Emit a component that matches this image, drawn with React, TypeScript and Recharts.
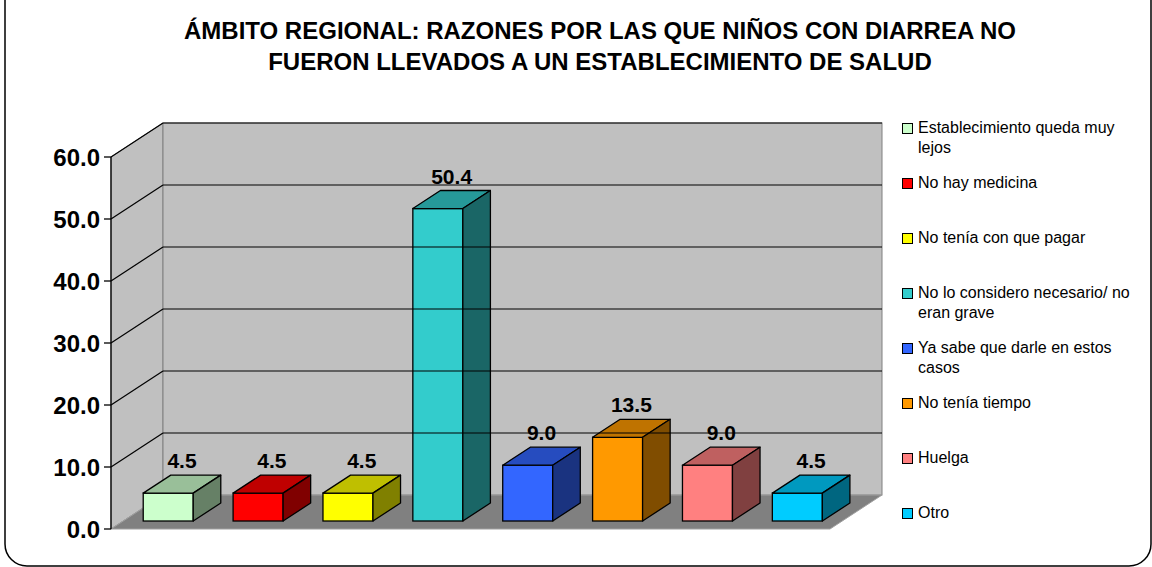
import React from "react"
import { Bar, BarChart, Cell, LabelList, Legend, ReferenceArea, ReferenceLine, XAxis, YAxis } from "recharts"

const categories = [
  "Establecimiento queda muy lejos",
  "No hay medicina",
  "No tenía con que pagar",
  "No lo considero necesario/ no eran grave",
  "Ya sabe que darle en estos casos",
  "No tenía tiempo",
  "Huelga",
  "Otro",
]
const values = [4.5, 4.5, 4.5, 50.4, 9.0, 13.5, 9.0, 4.5]
const frontColors = ["#CCFFCC", "#FF0000", "#FFFF00", "#33CCCC", "#3366FF", "#FF9900", "#FF8080", "#00CCFF"]
const topColors = ["#99BF99", "#BF0000", "#BFBF00", "#269999", "#264CBF", "#BF7300", "#BF6060", "#0099BF"]
const sideColors = ["#668066", "#800000", "#808000", "#1A6666", "#1A3380", "#804D00", "#804040", "#006680"]
const yTicks = [0, 10, 20, 30, 40, 50, 60]

const data = categories.map((name, i) => ({ name, value: values[i] }))

// depth of the 3D box (full wall depth) and of each bar
const DX = 52
const DY = 34
const BAR_IN = 0.235
const BAR_DEPTH = 0.53

const FONT = "Liberation Sans, Arial, sans-serif"

function Box3D(props: any) {
  const { x, y, width, height, index } = props
  const fx = x + DX * BAR_IN
  const fy = y - DY * BAR_IN
  const bx = DX * BAR_DEPTH
  const by = DY * BAR_DEPTH
  const stroke = "#000"
  return (
    <g>
      <rect x={fx} y={fy} width={width} height={height} fill={frontColors[index]} stroke={stroke} strokeWidth={1.3} />
      <polygon
        points={`${fx},${fy} ${fx + bx},${fy - by} ${fx + width + bx},${fy - by} ${fx + width},${fy}`}
        fill={topColors[index]}
        stroke={stroke}
        strokeWidth={1.3}
        strokeLinejoin="round"
      />
      <polygon
        points={`${fx + width},${fy} ${fx + width + bx},${fy - by} ${fx + width + bx},${fy + height - by} ${fx + width},${fy + height}`}
        fill={sideColors[index]}
        stroke={stroke}
        strokeWidth={1.3}
        strokeLinejoin="round"
      />
    </g>
  )
}

function Walls(props: any) {
  const { x, y, width, height } = props
  const bottom = y + height
  return (
    <g>
      {/* left side wall */}
      <polygon points={`${x},${y} ${x + DX},${y - DY} ${x + DX},${bottom - DY} ${x},${bottom}`} fill="#C0C0C0" stroke="#808080" />
      {/* back wall */}
      <rect x={x + DX} y={y - DY} width={width} height={height} fill="#C0C0C0" stroke="#808080" />
      {/* floor */}
      <polygon
        points={`${x},${bottom} ${x + DX},${bottom - DY} ${x + width + DX},${bottom - DY} ${x + width},${bottom}`}
        fill="#808080"
        stroke="#A0A0A0"
      />
    </g>
  )
}

function GridLine3D(props: any) {
  const { x1, y1, x2 } = props
  return (
    <g>
      <line x1={x1} y1={y1} x2={x1 + DX} y2={y1 - DY} stroke="#000" strokeWidth={1.2} />
      <line x1={x1 + DX} y1={y1 - DY} x2={x2 + DX} y2={y1 - DY} stroke="#000" strokeWidth={1.2} />
    </g>
  )
}

function ValueLabel(props: any) {
  const { x, y, width, value } = props
  const cx = x + DX * BAR_IN + width / 2 + (DX * BAR_DEPTH) / 2
  const ty = y - DY * BAR_IN - DY * BAR_DEPTH - 7
  return (
    <text x={cx} y={ty} textAnchor="middle" fontSize={21} fontWeight="bold" fontFamily={FONT} fill="#000">
      {Number(value).toFixed(1)}
    </text>
  )
}

function LegendBox() {
  return (
    <div style={{ fontFamily: FONT, fontSize: 16, color: "#000" }}>
      {categories.map((c, i) => (
        <div key={c} style={{ position: "absolute", left: 0, top: i * 55, display: "flex", alignItems: "flex-start" }}>
          <div
            style={{
              width: 9,
              height: 9,
              marginTop: 5,
              background: frontColors[i],
              border: "1px solid #000",
              flex: "none",
            }}
          />
          <div style={{ marginLeft: 5, width: 222, lineHeight: "20px" }}>{c}</div>
        </div>
      ))}
    </div>
  )
}

export default function App() {
  return (
    <div style={{ position: "absolute", left: 0, top: 0, width: 1152, height: 567, background: "#fff", overflow: "hidden" }}>
      <svg width={1152} height={567} style={{ position: "absolute", left: 0, top: 0 }}>
        <rect x={5} y={-30} width={1146} height={596} rx={22} ry={22} fill="none" stroke="#000" strokeWidth={1.5} />
      </svg>
      <div
        style={{
          position: "absolute",
          left: 0,
          top: 15,
          width: 1200,
          textAlign: "center",
          fontFamily: FONT,
          fontWeight: "bold",
          fontSize: 24,
          lineHeight: "31px",
        }}
      >
        ÁMBITO REGIONAL: RAZONES POR LAS QUE NIÑOS CON DIARREA NO
        <br />
        FUERON LLEVADOS A UN ESTABLECIMIENTO DE SALUD
      </div>
      <BarChart
        width={1152}
        height={567}
        data={data}
        margin={{ top: 157, right: 322, bottom: 38, left: 0 }}
        barSize={50}
        style={{ position: "absolute", left: 0, top: 0 }}
      >
        <XAxis dataKey="name" hide />
        <YAxis
          domain={[0, 60]}
          ticks={yTicks}
          width={111}
          tickSize={7}
          tickMargin={4}
          tickFormatter={(v: number) => v.toFixed(1)}
          axisLine={{ stroke: "#000", strokeWidth: 1.3 }}
          tickLine={{ stroke: "#000", strokeWidth: 1.3 }}
          tick={{ fill: "#000", fontSize: 24, fontWeight: "bold", fontFamily: FONT }}
        />
        <ReferenceArea y1={0} y2={60} ifOverflow="visible" shape={<Walls />} />
        {yTicks.slice(1).map((t) => (
          <ReferenceLine key={t} y={t} ifOverflow="visible" shape={<GridLine3D />} />
        ))}
        <Legend
          layout="horizontal"
          verticalAlign="middle"
          align="center"
          content={() => <LegendBox />}
          wrapperStyle={{ position: "absolute", left: 902, top: 118, width: 250, height: 420 }}
        />
        <Bar dataKey="value" isAnimationActive={false} shape={<Box3D />}>
          {data.map((d, i) => (
            <Cell key={d.name} fill={frontColors[i]} />
          ))}
          <LabelList dataKey="value" content={<ValueLabel />} />
        </Bar>
      </BarChart>
    </div>
  )
}
